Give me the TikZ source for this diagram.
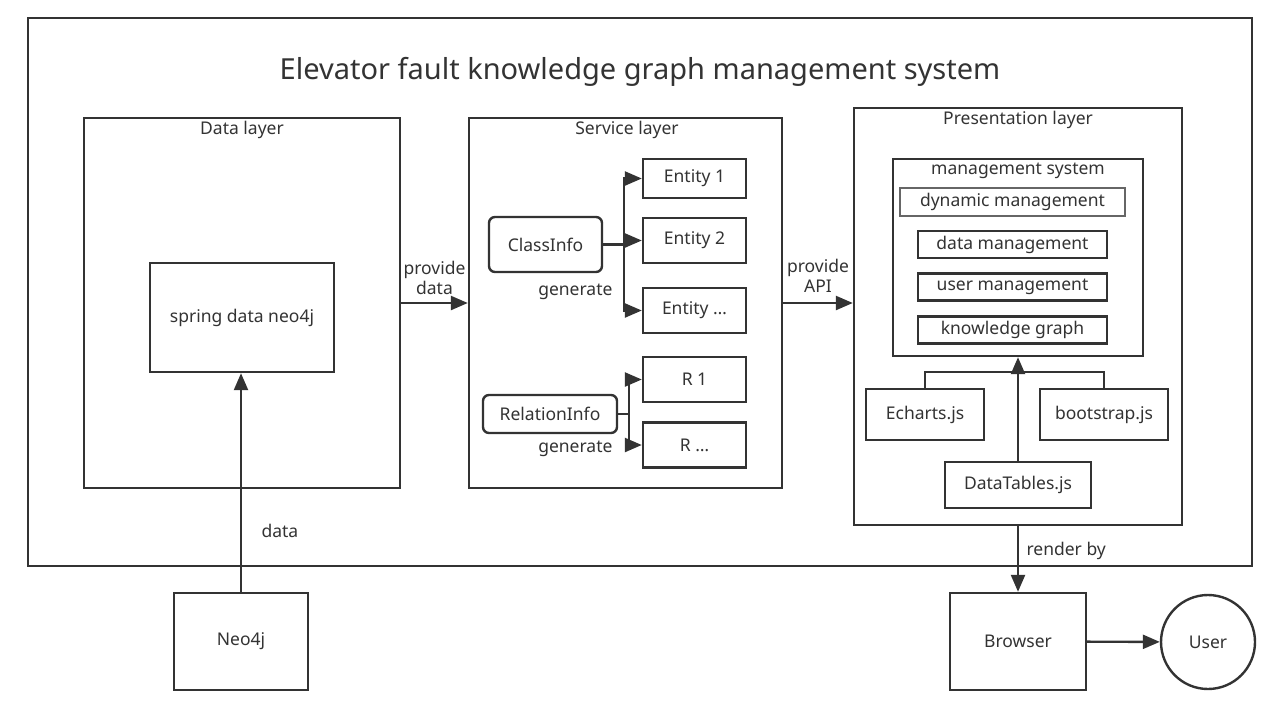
\documentclass[tikz,border=0pt]{standalone}
\usepackage{fontspec}
\setmainfont{Noto Sans}
\usetikzlibrary{arrows.meta}
\definecolor{ink}{HTML}{333333}

\begin{document}
\begin{tikzpicture}[x=1pt, y=-1pt, line width=2.4pt, draw=ink, text=ink,
    font=\fontsize{17.5}{20}\selectfont,
    box/.style={rectangle, draw=ink, inner sep=0pt},
    rbox/.style={box, rounded corners=6pt},
    arr/.style={-{Triangle[length=17pt, width=14pt]}, draw=ink}]
    \useasboundingbox (0,0) rectangle (1284,712);

    \node[box, minimum width=1224pt, minimum height=548pt] (frame) at (640, 292) {};
    \node[font=\fontsize{29}{34}\selectfont] (title) at (640, 72) {Elevator fault knowledge graph management system};

    % data layer
    \node[box, minimum width=316pt, minimum height=370pt] (datalayer) at (242, 303) {};
    \node (datatitle) at (242, 130) {Data layer};
    \node[box, minimum width=184pt, minimum height=109pt] (spring) at (242, 317.5) {spring data neo4j};

    % service layer
    \node[box, minimum width=313pt, minimum height=370pt] (service) at (625.5, 303) {};
    \node (servicetitle) at (627, 130) {Service layer};
    \node[rbox, minimum width=113pt, minimum height=55pt] (classinfo) at (545.5, 244.5) {ClassInfo};
    \node[box, minimum width=103pt, minimum height=39pt] (ent1) at (694.5, 178.5) {Entity 1};
    \node[box, minimum width=103pt, minimum height=45pt] (ent2) at (694.5, 240.5) {Entity 2};
    \node[box, minimum width=103pt, minimum height=45pt] (entn) at (694.5, 310.5) {Entity \dots};
    \node[rbox, minimum width=134pt, minimum height=38pt] (relinfo) at (550, 414) {RelationInfo};
    \node[box, minimum width=103pt, minimum height=45pt] (r1) at (694.5, 379.5) {R 1};
    \node[box, minimum width=103pt, minimum height=45pt] (rn) at (694.5, 445) {R \dots};
    \node[anchor=east] (genclass) at (617, 292) {generate};
    \node[anchor=east] (genrel) at (617, 449) {generate};

    \draw[arr] (classinfo.east) -- ++(21,0) |- (ent1);
    \draw[arr] (classinfo.east) -- ++(21,0) |- (ent2);
    \draw[arr] (classinfo.east) -- ++(21,0) |- (entn);
    \draw[arr] (relinfo.east) -- ++(11,0) |- (r1);
    \draw[arr] (relinfo.east) -- ++(11,0) |- (rn);

    % presentation layer
    \node[box, minimum width=328pt, minimum height=417pt] (present) at (1018, 316.5) {};
    \node (presenttitle) at (1018, 120) {Presentation layer};
    \node[box, minimum width=250pt, minimum height=197pt] (mgmt) at (1018, 257.5) {};
    \node (mgmttitle) at (1018, 171) {management system};
    \node[box, draw=ink!75, minimum width=225pt, minimum height=28pt] (dynamic) at (1012.5, 202) {dynamic management};
    \node[box, minimum width=189pt, minimum height=27pt] (datamg) at (1012.5, 244.5) {data management};
    \node[box, minimum width=189pt, minimum height=27pt] (usermg) at (1012.5, 287) {user management};
    \node[box, minimum width=189pt, minimum height=27pt] (kg) at (1012.5, 330) {knowledge graph};
    \node[box, minimum width=118pt, minimum height=51pt] (echarts) at (925, 414.5) {Echarts.js};
    \node[box, minimum width=128pt, minimum height=51pt] (bootstrap) at (1104, 414.5) {bootstrap.js};
    \node[box, minimum width=146pt, minimum height=46pt] (datatables) at (1018, 485) {DataTables.js};

    \draw (echarts.north) -- ++(0,-16) -| (bootstrap.north);
    \draw[arr] (datatables.north) -- (mgmt.south);

    % outside the system
    \node[box, minimum width=134pt, minimum height=97pt] (neo4j) at (241, 641.5) {Neo4j};
    \node[box, minimum width=136pt, minimum height=97pt] (browser) at (1018, 641.5) {Browser};
    \node[circle, draw=ink, minimum size=94pt, inner sep=0pt] (user) at (1208, 642) {User};

    \draw[arr] (datalayer) -- node[above=4pt, align=center] {provide\\data} (service);
    \draw[arr] (service.east) -- node[above=6pt, align=center] {provide\\API} (service.east -| present.west);
    \draw[arr] (neo4j.north) -- node[pos=0.28, right=16pt] {data} (neo4j.north |- spring.south);
    \draw[arr] (present.south) -- node[pos=0.38, right=4pt] {render by} (browser.north);
    \draw[arr] (browser) -- (user);
\end{tikzpicture}
\end{document}
